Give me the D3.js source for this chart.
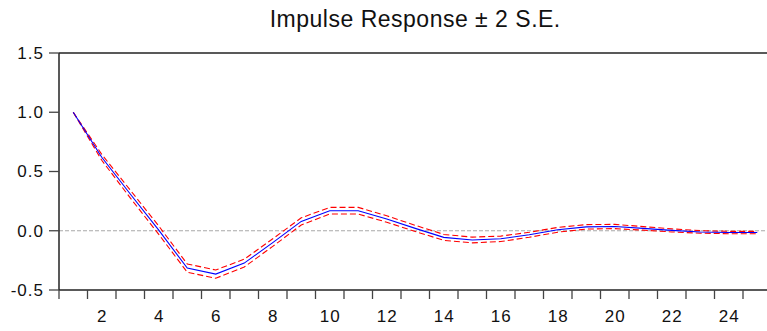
<!DOCTYPE html>
<html>
<head>
<meta charset="utf-8">
<script src="https://cdn.jsdelivr.net/npm/d3@7"></script>
<style>
  html, body { margin: 0; padding: 0; background: #fff; }
  svg { display: block; }
  text { font-family: "Liberation Sans", Arial, sans-serif; fill: #111; }
</style>
</head>
<body>
<svg id="chart" width="767" height="331"></svg>
<script>
// ---- data ----
const periods = d3.range(1, 26);
const response = [1.0, 0.62, 0.31, 0.005, -0.315, -0.366, -0.273, -0.10, 0.079, 0.169, 0.169, 0.099, 0.02,
                  -0.056, -0.078, -0.068, -0.034, 0.008, 0.033, 0.036, 0.02, 0.003, -0.01, -0.015, -0.015];
const upperBand = [1.0, 0.645, 0.343, 0.040, -0.280, -0.331, -0.240, -0.068, 0.109, 0.197, 0.197, 0.126, 0.046,
                   -0.031, -0.054, -0.045, -0.013, 0.028, 0.052, 0.054, 0.035, 0.016, 0.001, -0.005, -0.005];
const lowerBand = [1.0, 0.595, 0.277, -0.030, -0.350, -0.401, -0.306, -0.132, 0.049, 0.141, 0.141, 0.072, -0.006,
                   -0.081, -0.102, -0.091, -0.055, -0.012, 0.014, 0.018, 0.005, -0.010, -0.021, -0.025, -0.025];
const yTicks = [-0.5, 0.0, 0.5, 1.0, 1.5];
const xLabels = [2, 4, 6, 8, 10, 12, 14, 16, 18, 20, 22, 24];
const title = "Impulse Response \u00b1 2 S.E.";

// ---- layout ----
const svg = d3.select("#chart");
const plotL = 59, plotR = 771.5, plotT = 53, plotB = 290;

const x = d3.scaleBand().domain(periods).range([plotL, plotR]).paddingInner(0).paddingOuter(0);
const y = d3.scaleLinear().domain([-0.5, 1.5]).range([plotB, plotT]);
const cx = p => x(p) + x.bandwidth() / 2;

// title
svg.append("text")
  .attr("x", (plotL + plotR) / 2)
  .attr("y", 26.5)
  .attr("text-anchor", "middle")
  .style("font-size", "23px")
  .style("letter-spacing", "0.5px")
  .text(title);

// zero line
svg.append("line")
  .attr("x1", plotL).attr("x2", plotR)
  .attr("y1", y(0)).attr("y2", y(0))
  .attr("stroke", "#a8a8a8").attr("stroke-width", 1)
  .attr("stroke-dasharray", "4,2");

// series lines
const lineGen = vals => d3.line().x((d, i) => cx(periods[i])).y(d => y(d))(vals);

svg.append("path").attr("d", lineGen(upperBand))
  .attr("fill", "none").attr("stroke", "#ff0000").attr("stroke-width", 1.1)
  .attr("stroke-dasharray", "6,3");
svg.append("path").attr("d", lineGen(lowerBand))
  .attr("fill", "none").attr("stroke", "#ff0000").attr("stroke-width", 1.1)
  .attr("stroke-dasharray", "6,3");
svg.append("path").attr("d", lineGen(response))
  .attr("fill", "none").attr("stroke", "#0000ff").attr("stroke-width", 1.1);

// frame: left, top, bottom
const axisColor = "#222";
svg.append("line").attr("x1", plotL).attr("x2", plotL).attr("y1", plotT).attr("y2", plotB)
  .attr("stroke", axisColor).attr("stroke-width", 1.5);
svg.append("line").attr("x1", plotL).attr("x2", plotR).attr("y1", plotT).attr("y2", plotT)
  .attr("stroke", axisColor).attr("stroke-width", 1.5);
svg.append("line").attr("x1", plotL).attr("x2", plotR).attr("y1", plotB).attr("y2", plotB)
  .attr("stroke", axisColor).attr("stroke-width", 1.5);

// y axis ticks + labels
const yAxis = svg.append("g");
yTicks.forEach(t => {
  yAxis.append("line").attr("x1", plotL - 10).attr("x2", plotL)
    .attr("y1", y(t)).attr("y2", y(t))
    .attr("stroke", "#444").attr("stroke-width", 1.3);
  yAxis.append("text")
    .attr("x", 44).attr("y", y(t))
    .attr("dy", "0.35em")
    .attr("text-anchor", "end")
    .style("font-size", "17px")
    .style("letter-spacing", "1px")
    .text(t.toFixed(1));
});

// x axis ticks at band boundaries
const xAxis = svg.append("g");
periods.forEach(p => {
  xAxis.append("line").attr("x1", x(p)).attr("x2", x(p))
    .attr("y1", plotB).attr("y2", plotB + 9)
    .attr("stroke", "#444").attr("stroke-width", 1.3);
});
xLabels.forEach(p => {
  xAxis.append("text")
    .attr("x", cx(p) + 0.5).attr("y", 322)
    .attr("text-anchor", "middle")
    .style("font-size", "17px")
    .style("letter-spacing", "1px")
    .text(p);
});
</script>
</body>
</html>
